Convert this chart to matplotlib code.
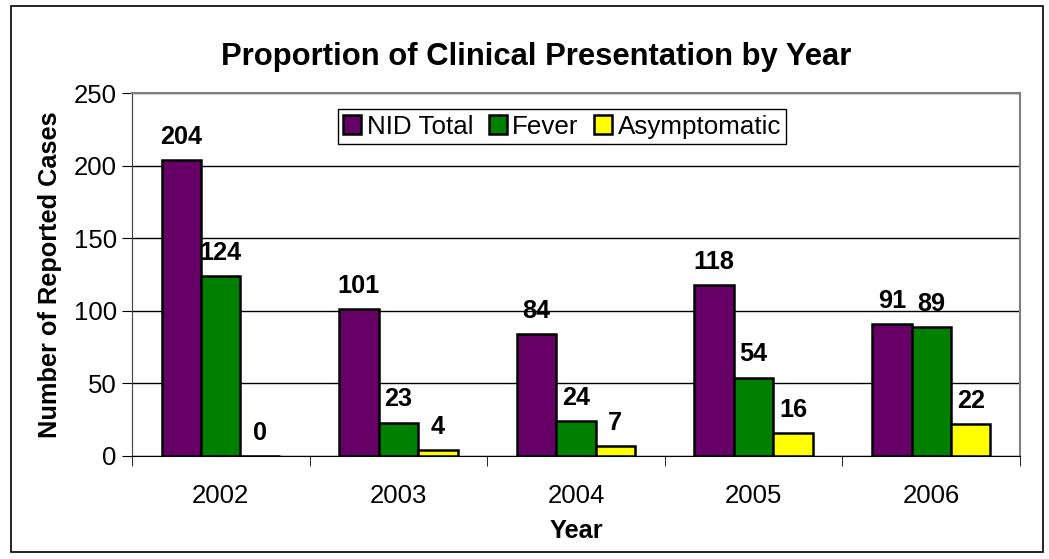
import numpy as np
import matplotlib.pyplot as plt
from matplotlib.patches import Rectangle

plt.rcParams['font.family'] = ['Liberation Sans', 'DejaVu Sans']

years = ['2002', '2003', '2004', '2005', '2006']
nid_total = [204, 101, 84, 118, 91]
fever = [124, 23, 24, 54, 89]
asymptomatic = [0, 4, 7, 16, 22]

series = [('NID Total', nid_total, '#660066'),
          ('Fever', fever, '#008000'),
          ('Asymptomatic', asymptomatic, '#FFFF00')]

fig = plt.figure(figsize=(10.49, 5.59), dpi=100)
ax = fig.add_axes([0.1258, 0.1843, 0.8466, 0.6493])

# outer chart border
fig.patches.append(Rectangle((11 / 1049, 1 - 552 / 559), 1032 / 1049, 546 / 559,
                             transform=fig.transFigure, fill=False,
                             edgecolor='black', linewidth=1.2))

x = np.arange(len(years))
width = 0.222
for i, (name, vals, col) in enumerate(series):
    pos = x + (i - 1) * width
    bars = ax.bar(pos, vals, width, color=col, edgecolor='black', linewidth=1.8,
                  label=name, zorder=3)
    for b, v in zip(bars, vals):
        ax.annotate(str(v), (b.get_x() + b.get_width() / 2, v),
                    xytext=(0, 8), textcoords='offset points',
                    ha='center', va='bottom', fontsize=18.2, fontweight='bold')

ax.set_xlim(-0.5, len(years) - 0.5)
ax.set_ylim(0, 250)
ax.set_yticks(np.arange(0, 251, 50))
ax.set_xticks(x)
ax.set_xticklabels(years)
ax.set_xticks(np.arange(-0.5, len(years)), minor=True)
ax.tick_params(axis='x', which='major', length=0, pad=20, labelsize=18.5)
ax.tick_params(axis='x', which='minor', length=7, direction='out', color='black')
ax.tick_params(axis='y', length=7, direction='out', labelsize=18.5, pad=4)

ax.grid(axis='y', color='black', linewidth=1, zorder=0)
for s in ['top', 'right']:
    ax.spines[s].set_color('#808080')
    ax.spines[s].set_linewidth(1.5)
ax.spines['left'].set_color('#404040')
ax.spines['bottom'].set_color('black')
ax.spines['bottom'].set_zorder(4)

ax.set_xlabel('Year', fontsize=18.3, fontweight='bold', labelpad=8)
ax.set_ylabel('Number of Reported Cases', fontsize=18.3, fontweight='bold', labelpad=8)
fig.suptitle('Proportion of Clinical Presentation by Year', fontsize=22.3,
             fontweight='bold', x=0.511, y=0.925)

leg = ax.legend(loc='upper left', bbox_to_anchor=(0.232, 0.955), ncol=3, fontsize=18.7,
                frameon=True, fancybox=False, edgecolor='black', framealpha=1,
                handlelength=0.7, handleheight=0.7, handletextpad=0.2,
                columnspacing=0.6, borderpad=0.2, borderaxespad=0)
leg.get_frame().set_linewidth(1)

fig.savefig('out.png', dpi=100)
